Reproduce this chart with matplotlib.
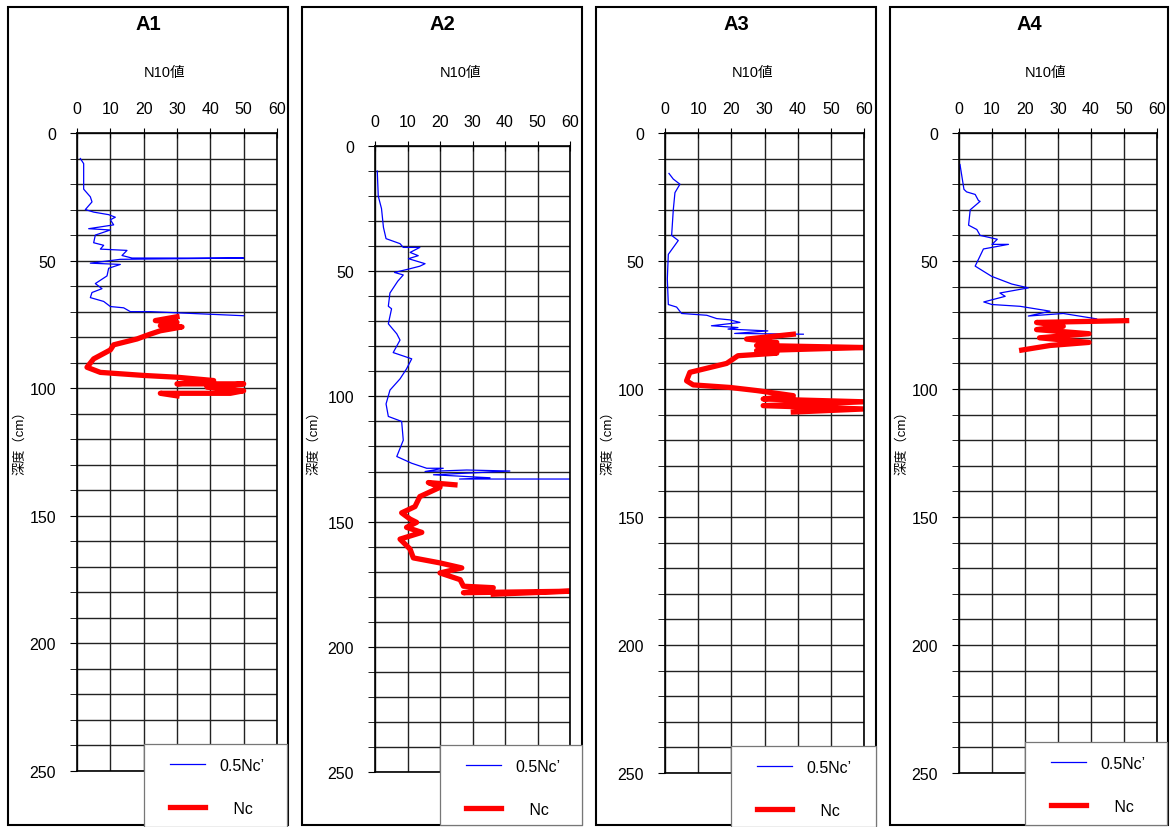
import matplotlib
matplotlib.use("Agg")
import matplotlib.pyplot as plt
from matplotlib.patches import Rectangle
from matplotlib.lines import Line2D

plt.rcParams["font.family"] = ["Liberation Sans", "Noto Sans CJK JP", "DejaVu Sans"]

W, H = 1171, 828

titles = ["A1", "A2", "A3", "A4"]

# blue: 0.5Nc'  (x = N10 value, depth in cm)
a1_blue_x = [1, 2, 2, 4, 4.5, 2.5, 5, 9.5, 11.5, 10, 11, 3.5, 10, 5.5, 5, 8, 7, 15,
             13.5, 16.5, 50, 13, 4, 13, 9.5, 9, 5.5, 7.5, 4.5, 4, 8, 10, 14, 16, 22, 50]
a1_blue_d = [10, 12, 22, 25, 27, 30, 31, 32, 33, 34, 36, 37.5, 38, 40, 43, 44, 45.5, 46,
             48, 49, 49, 49.5, 51, 51.5, 53, 56, 59, 61, 62.5, 64.5, 66, 68, 68.5, 70, 70, 71.6]
a1_red_x = [30, 23.5, 30, 25, 31.5, 25, 22, 18, 11, 10, 5, 3, 7, 20, 30, 41, 30, 50,
            39, 50, 46, 25, 30]
a1_red_d = [72, 73.5, 74.2, 75.5, 76, 77.5, 78.8, 80.7, 83, 85, 88.5, 91.8, 93.8, 95,
            95.7, 97, 98.3, 98.3, 99.6, 101, 102, 102, 103]

a2_blue_x = [0.7, 1, 2, 2.6, 3.4, 7.7, 8.7, 13.8, 10.8, 13.3, 10.3, 15.4, 13.8, 10.8, 6,
             8.7, 7, 4.6, 4.1, 5.1, 4.1, 6.7, 7.7, 5.6, 11.3, 9.7, 7.7, 4.6, 3.4, 4.1,
             8.2, 8.7, 6.7, 11.3, 15.9, 21, 15.4, 28.2, 41.5, 18, 35.4, 26, 60]
a2_blue_d = [10, 20, 25, 32.5, 37, 39, 40.5, 40.5, 42.5, 43.8, 45, 47, 48, 49, 50.5,
             51.5, 54, 58.7, 64, 65, 71, 75, 77.5, 82.5, 85, 89, 93, 97.5, 103, 108,
             110, 117.5, 124, 126.7, 128.7, 128.7, 130, 129.4, 129.8, 131.3, 132.5, 133, 133]
a2_red_x = [24.6, 16.4, 20, 13.8, 12.3, 8.2, 10.8, 12.8, 9.7, 14.4, 7.7, 10.8, 11.8, 20,
            26.7, 20, 26.2, 27.2, 36.4, 27.2, 60, 36.4]
a2_red_d = [135.3, 134.4, 136.3, 140, 144, 146.5, 149, 150.3, 152.3, 154.3, 157, 161,
            164.5, 166.5, 168.5, 170.5, 173.2, 175.8, 176.4, 178.4, 177.8, 179]

a3_blue_x = [1.2, 2.5, 4.5, 3, 2.5, 2, 4, 1, 0.7, 1, 3.5, 5, 12.6, 15.6, 19.6, 22.6, 14,
             22, 19, 31, 21, 41.7]
a3_blue_d = [15.8, 18, 20, 23.3, 30, 40, 42, 47.4, 57, 67, 68, 70.5, 71.2, 72.5, 73, 74,
             75.3, 76, 76.6, 77.3, 78.3, 78.6]
a3_red_x = [38.7, 24.6, 33.7, 27.6, 60, 27.6, 33.7, 22, 18.6, 7.5, 6.5, 8.5, 19.6, 27.6,
            38.7, 29.6, 60, 29.6, 60, 38.7]
a3_red_d = [78.6, 80.5, 81.8, 83, 83.8, 85, 86, 87, 90, 93.5, 96.8, 98.4, 99.4, 100.6,
            102.6, 103.9, 105, 106.5, 107.8, 109]

a4_blue_x = [0.3, 1.5, 2.3, 4.9, 5.9, 6.4, 3.4, 2.9, 5.4, 6.4, 11.6, 10, 15, 7.4, 6.4,
             4.9, 9.9, 16, 21, 12.4, 14, 7.5, 10, 18.5, 27.6, 21, 31.6, 41.7]
a4_blue_d = [12.3, 22, 23, 24, 26.4, 26.7, 30, 36, 37.7, 40, 41.5, 43.5, 43.5, 45.3, 48,
             52, 56, 59, 60.5, 62.5, 63.8, 66, 67, 67.7, 69.6, 71.5, 70.5, 72.6]
a4_red_x = [50.8, 23.5, 31.6, 23.5, 39.4, 24.4, 39.4, 27.6, 19]
a4_red_d = [73.3, 74, 75.5, 76.8, 78.4, 80, 81.8, 83, 84.8]

blue_x = [a1_blue_x, a2_blue_x, a3_blue_x, a4_blue_x]
blue_d = [a1_blue_d, a2_blue_d, a3_blue_d, a4_blue_d]
red_x = [a1_red_x, a2_red_x, a3_red_x, a4_red_x]
red_d = [a1_red_d, a2_red_d, a3_red_d, a4_red_d]

# pixel layout: frame (x0, x1), axes (x0, x1, ytop, ybottom), legend box (x0, x1, y0, y1)
frames = [(8, 288), (302, 582), (596, 876), (890, 1168)]
axes_px = [(77, 277, 134, 772), (375, 570, 147, 773), (665, 864, 134, 774), (959, 1157, 134, 774)]
legend_px = [(144, 287, 745, 828), (440, 582, 746, 826), (731, 876, 747, 828), (1025, 1167, 743, 826)]

fig = plt.figure(figsize=(W / 100, H / 100), dpi=100)

for i in range(4):
    fx0, fx1 = frames[i]
    fig.patches.append(Rectangle((fx0 / W, 1 - 826 / H), (fx1 - fx0) / W, (826 - 8) / H,
                                 transform=fig.transFigure, fill=False,
                                 edgecolor="black", lw=1.5, zorder=0))
    ax0, ax1, ay0, ay1 = axes_px[i]
    ax = fig.add_axes([ax0 / W, 1 - ay1 / H, (ax1 - ax0) / W, (ay1 - ay0) / H])
    ax.plot(blue_x[i], blue_d[i], color="#0000ff", lw=0.9)
    ax.plot(red_x[i], red_d[i], color="#ff0000", lw=3.8)
    ax.set_xlim(0, 60)
    ax.set_ylim(250, 0)
    ax.set_xticks(range(0, 61, 10))
    ax.set_yticks(range(0, 251, 50))
    ax.set_yticks(range(0, 251, 10), minor=True)
    ax.grid(True, which="both", color="#222222", lw=1.0)
    ax.xaxis.tick_top()
    ax.tick_params(axis="x", direction="inout", length=7, pad=9, labelsize=11.5)
    ax.tick_params(axis="y", which="major", direction="out", length=5, pad=10, labelsize=11.5)
    ax.tick_params(axis="y", which="minor", direction="out", length=5)
    for s in ax.spines.values():
        s.set_linewidth(1.2)
    cx = (fx0 + fx1) / 2
    fig.text(cx / W, 1 - 25 / H, titles[i], ha="center", va="center",
             fontsize=14.5, fontweight="bold")
    fig.text(((ax0 + ax1) / 2 - 12) / W, 1 - 73 / H, "N10値", ha="center",
             va="center", fontsize=10.5)
    fig.text((fx0 + 12) / W, 1 - 440 / H, "深度（cm）", ha="center", va="center",
             rotation=90, fontsize=9.5)

    # legend box
    lx0, lx1, ly0, ly1 = legend_px[i]
    fig.patches.append(Rectangle((lx0 / W, 1 - ly1 / H), (lx1 - lx0) / W, (ly1 - ly0) / H,
                                 transform=fig.transFigure, facecolor="white",
                                 edgecolor="#777777", lw=0.9, zorder=4))
    handles = [Line2D([], [], color="#0000ff", lw=0.9),
               Line2D([], [], color="#ff0000", lw=3.8)]
    leg = fig.legend(handles, ["0.5Nc’", "   Nc"], loc="upper left",
                     bbox_to_anchor=((lx0 + 26) / W, 1 - (ly0 + 14) / H),
                     frameon=False, fontsize=11.5, handlelength=2.2,
                     labelspacing=1.75, borderpad=0, handletextpad=0.9,
                     borderaxespad=0)
    leg.set_zorder(6)

fig.savefig("out.png", dpi=100)
